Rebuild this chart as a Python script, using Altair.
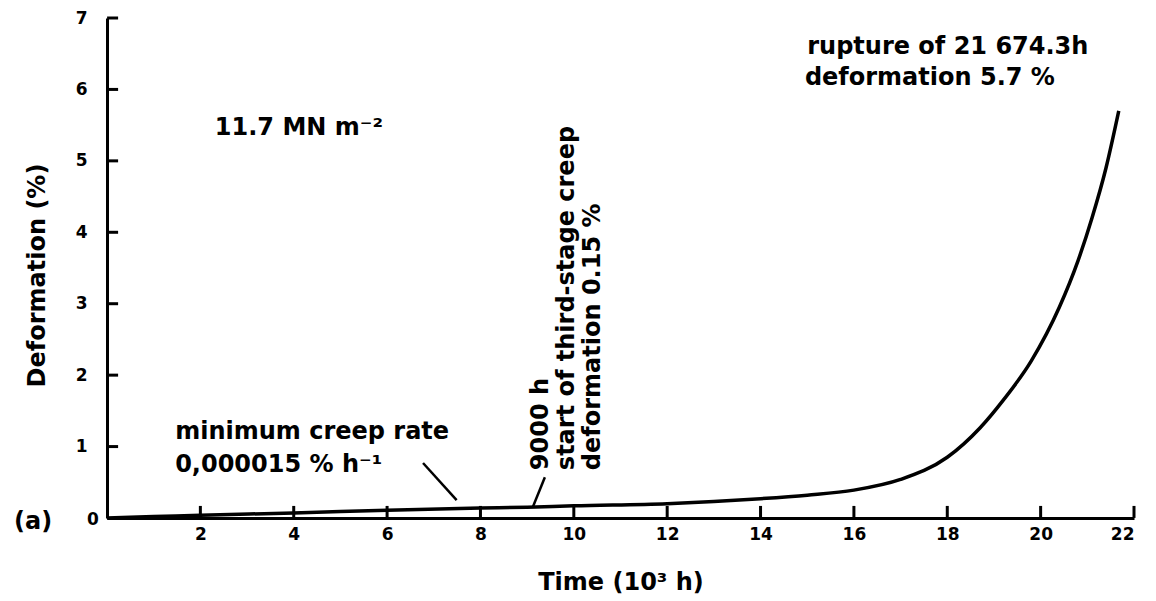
import altair as alt
import pandas as pd

# Creep curve: time in 10^3 h, deformation in %
time_kh = [0, 1, 2, 4, 6, 8, 9, 10, 12, 13, 14, 15, 16, 17, 18, 18.7, 19.2, 19.8, 20.4, 20.8, 21.1, 21.4, 21.674]
deform_pct = [0, 0.02, 0.04, 0.07, 0.11, 0.14, 0.15, 0.17, 0.2, 0.23, 0.27, 0.32, 0.39, 0.54, 0.85, 1.26, 1.65, 2.2, 2.95, 3.6, 4.2, 4.9, 5.7]

x_ticks = [2, 4, 6, 8, 10, 12, 14, 16, 18, 20, 22]
y_ticks = [1, 2, 3, 4, 5, 6, 7]

# Annotation texts with their anchor positions (data units)
note_text = ["11.7 MN m⁻²", "minimum creep rate", "0,000015 % h⁻¹",
             "rupture of 21 674.3h", "deformation 5.7 %", "(a)"]
note_x = [2.31, 1.46, 1.46, 15.0, 14.95, -1.99]
note_y = [5.46, 1.2, 0.74, 6.6, 6.16, -0.06]

vert_text = ["9000 h", "start of third-stage creep", "deformation  0.15 %"]
vert_x = [9.29, 9.85, 10.41]
vert_y = [0.67, 0.67, 0.67]

# Leader lines from the notes to the curve
lead_x = [6.77, 9.38]
lead_y = [0.77, 0.57]
lead_x2 = [7.49, 9.12]
lead_y2 = [0.25, 0.15]

FONT = "DejaVu Sans"
W, H = 1027, 500

xs = alt.Scale(domain=[0, 22], nice=False)
ys = alt.Scale(domain=[0, 7], nice=False)

x_axis = alt.Axis(
    values=x_ticks, format="d", title="Time (10³ h)", titleX=W / 2, titleY=64,
    titleAlign="center", titleBaseline="middle",
    labelPadding=8, tickSize=0, grid=False)
y_axis = alt.Axis(
    values=y_ticks, format="d", title="Deformation (%)", titleX=-70, titleY=257,
    titleAngle=270, titleAlign="center", titleBaseline="middle",
    labelPadding=20, tickSize=0, grid=False)

curve_df = pd.DataFrame({"t": time_kh, "d": deform_pct})

curve = alt.Chart(curve_df).mark_line(
    color="black", strokeWidth=3.5, interpolate="monotone"
).encode(
    x=alt.X("t:Q", scale=xs, axis=x_axis),
    y=alt.Y("d:Q", scale=ys, axis=y_axis),
)

# Inward-pointing ticks on the time axis
xt = alt.Chart(pd.DataFrame({"v": x_ticks, "p": [0.085] * len(x_ticks)})).mark_tick(
    color="black", orient="vertical", size=12, thickness=3, opacity=1
).encode(
    x=alt.X("v:Q", scale=xs, axis=x_axis), y=alt.Y("p:Q", scale=ys, axis=y_axis)
)

# Inward-pointing ticks on the deformation axis
yt = alt.Chart(pd.DataFrame({"v": y_ticks, "p": [0.12] * len(y_ticks)})).mark_tick(
    color="black", orient="horizontal", size=11, thickness=3, opacity=1
).encode(
    y=alt.Y("v:Q", scale=ys, axis=y_axis), x=alt.X("p:Q", scale=xs, axis=x_axis)
)

notes = alt.Chart(pd.DataFrame({"t": note_text, "x": note_x, "y": note_y})).mark_text(
    font=FONT, fontSize=24, fontWeight="bold", align="left", baseline="middle", color="black"
).encode(x=alt.X("x:Q", scale=xs, axis=x_axis), y=alt.Y("y:Q", scale=ys, axis=y_axis), text="t:N")

# Origin label shared by both axes
origin = alt.Chart(pd.DataFrame({"t": ["0"], "x": [-0.3], "y": [-0.03]})).mark_text(
    font=FONT, fontSize=17, fontWeight="bold", align="center", baseline="middle", color="black"
).encode(x=alt.X("x:Q", scale=xs, axis=x_axis), y=alt.Y("y:Q", scale=ys, axis=y_axis), text="t:N")

verts = alt.Chart(pd.DataFrame({"t": vert_text, "x": vert_x, "y": vert_y})).mark_text(
    font=FONT, fontSize=24, fontWeight="bold", align="left", baseline="middle", angle=270, color="black"
).encode(x=alt.X("x:Q", scale=xs, axis=x_axis), y=alt.Y("y:Q", scale=ys, axis=y_axis), text="t:N")

leads = alt.Chart(pd.DataFrame({"x": lead_x, "y": lead_y, "x2": lead_x2, "y2": lead_y2})).mark_rule(
    color="black", strokeWidth=2.5
).encode(x=alt.X("x:Q", scale=xs, axis=x_axis), y=alt.Y("y:Q", scale=ys, axis=y_axis), x2="x2:Q", y2="y2:Q")

chart = alt.layer(curve, xt, yt, leads, notes, origin, verts).properties(
    width=W, height=H,
    autosize=alt.AutoSizeParams(type="none"),
    padding={"left": 107, "top": 18, "right": 22, "bottom": 83},
).configure(background="white").configure_view(stroke=None).configure_axis(
    domainColor="black", domainWidth=3,
    labelFont=FONT, labelFontSize=17, labelFontWeight="bold", labelColor="black",
    titleFont=FONT, titleFontSize=24, titleFontWeight="bold", titleColor="black",
)

chart.save("out.html", embed_options={"renderer": "svg", "actions": False})
